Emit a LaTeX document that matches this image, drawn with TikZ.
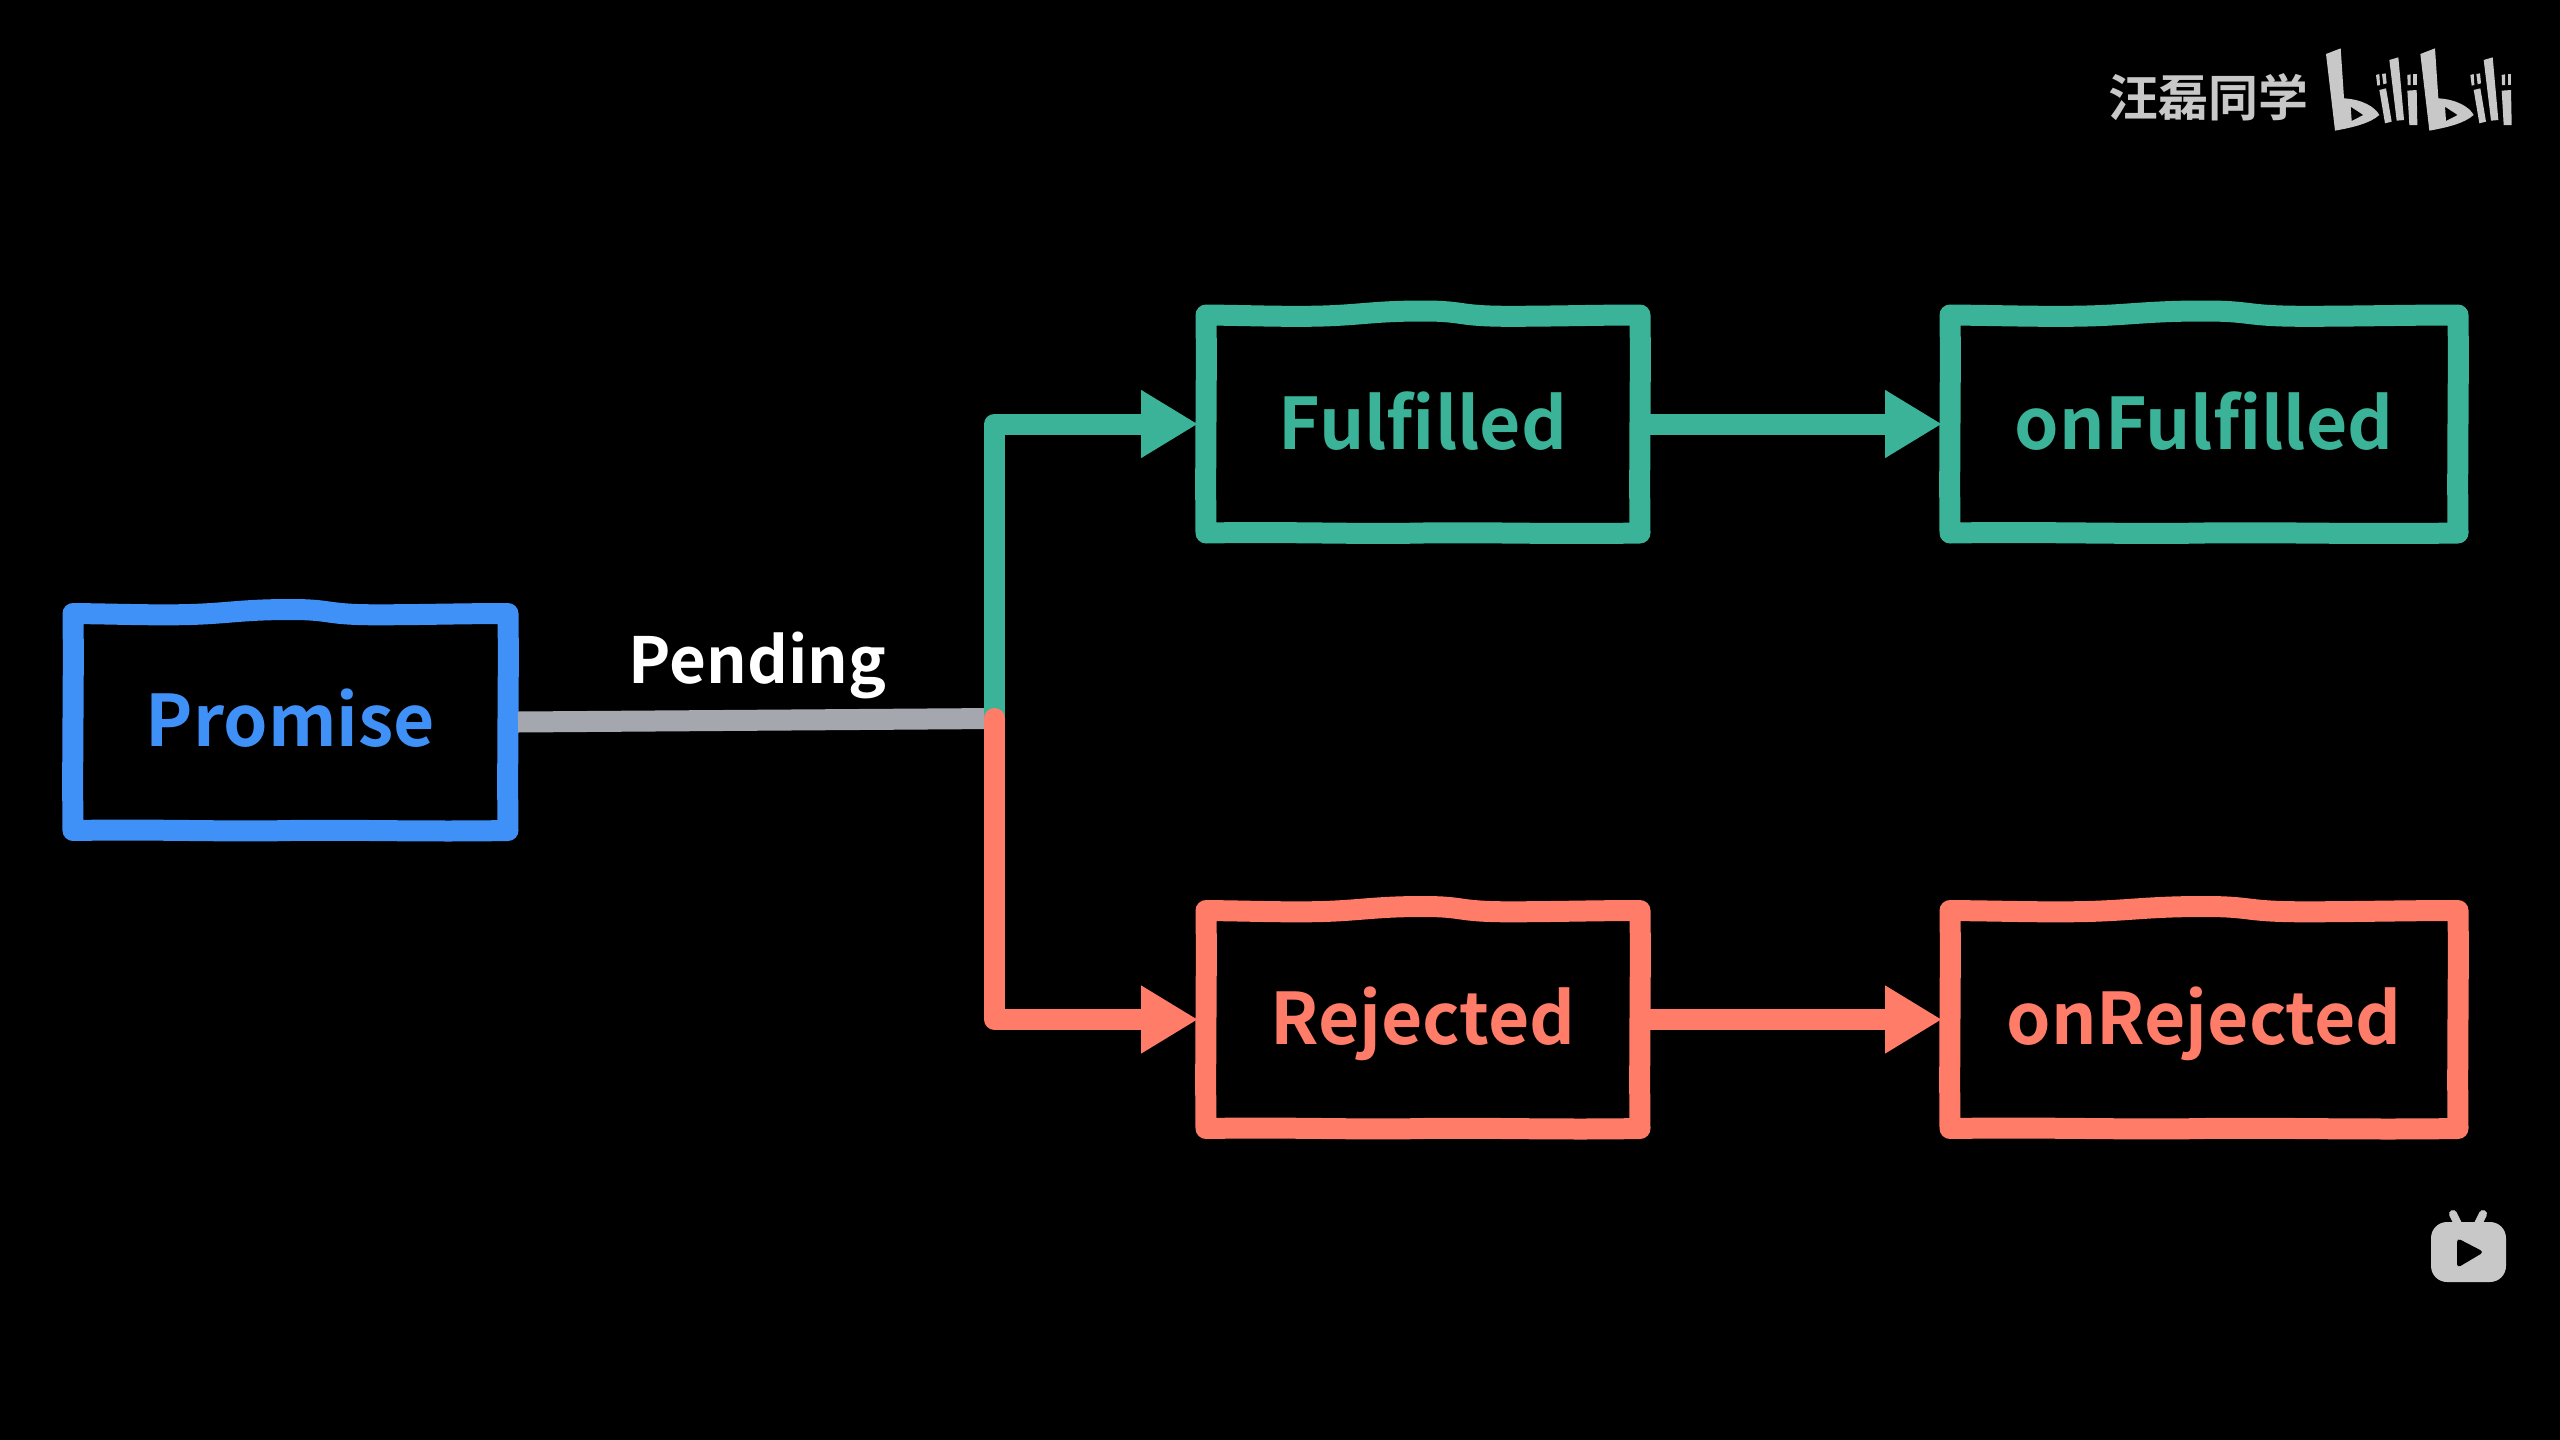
\documentclass[tikz,border=0pt]{standalone}
\usepackage{fontspec}
\setmainfont{Noto Sans CJK SC}[BoldFont={* Bold}]
\usetikzlibrary{arrows.meta}
\definecolor{cblue}{RGB}{64,145,247}
\definecolor{cgreen}{RGB}{59,179,152}
\definecolor{cred}{RGB}{255,124,104}
\definecolor{cgrey}{RGB}{164,168,174}
\definecolor{cmark}{RGB}{200,200,200}
\tikzset{
  x=0.5pt,y=-0.5pt,
  boxnode/.style={inner sep=0pt,outer sep=0pt,minimum width=#1},
  labeltext/.style={inner sep=0pt,anchor=base,font=\fontsize{35.6}{36}\selectfont\bfseries},
  conn/.style={line width=10.5pt,line join=round},
  tipped/.style={conn,-{Triangle[length=28.5pt,width=32pt]}},
}
% name, cx, cy, w, h, colour, text, baseline y
\newcommand{\handbox}[8]{%
  \node[boxnode=#4*0.5pt,minimum height=#5*0.5pt] (#1) at (#2,#3) {};
  \node[labeltext,text=#6] (#1text) at (#2,#8) {#7};
  \begin{scope}[shift={(#1.center)}]
    \pgfmathsetmacro{\a}{#4/2-10}
    \pgfmathsetmacro{\b}{#5/2-10.5}
    \draw[draw=#6,line width=10.5pt,line join=round]
      ({-\a},{-\b}) .. controls ({-.8*\a},{-\b+.5}) and ({-.7*\a},{-\b+1.5}) .. ({-.54*\a},{-\b+1.3})
      .. controls ({-.3*\a},{-\b+1}) and ({-.25*\a},{-\b-4}) .. (0,{-\b-4})
      .. controls ({.2*\a},{-\b-4}) and ({.15*\a},{-\b+1.3}) .. ({.4*\a},{-\b+1.3})
      .. controls ({.6*\a},{-\b+1.3}) and ({.8*\a},{-\b}) .. ({\a},{-\b})
      .. controls ({\a+1},{-.4*\b}) and ({\a-1},{.3*\b}) .. ({\a},{\b})
      .. controls ({.6*\a},{\b+1.5}) and ({.3*\a},{\b-1}) .. ({0},{\b})
      .. controls ({-.3*\a},{\b+1.5}) and ({-.6*\a},{\b-1.5}) .. ({-\a},{\b})
      .. controls ({-\a-1},{.3*\b}) and ({-\a+1},{-.4*\b}) .. cycle;
  \end{scope}
}
\begin{document}
\begin{tikzpicture}
\fill[black] (0,0) rectangle (2560,1440);
\useasboundingbox (0,0) rectangle (2560,1440);
\handbox{promise}{290.5}{722}{455}{238}{cblue}{Promise}{746}
\handbox{fulfilled}{1423}{424}{454}{239}{cgreen}{Fulfilled}{449}
\handbox{onfulfilled}{2204}{424}{528}{239}{cgreen}{onFulfilled}{449}
\handbox{rejected}{1423}{1019.5}{454}{239}{cred}{Rejected}{1044}
\handbox{onrejected}{2204}{1019.5}{528}{239}{cred}{onRejected}{1044}
\coordinate (junction) at (994.5,718.5);
\node[labeltext,text=white,font=\fontsize{31.8}{32}\selectfont\bfseries] (pending) at (757.5,683) {Pending};
\draw[conn,cgrey] (promise.east) -- (junction);
\draw[tipped,cgreen,line cap=round] (junction) |- ([xshift=1pt]fulfilled.west);
\draw[tipped,cred,line cap=round] (junction) |- ([xshift=1pt]rejected.west);
\draw[tipped,cgreen] (fulfilled.east) -- ([xshift=1pt]onfulfilled.west);
\draw[tipped,cred] (rejected.east) -- ([xshift=1pt]onrejected.west);
% watermark
\node[inner sep=0pt,anchor=base,text=cmark,font=\fontsize{25}{25}\selectfont\bfseries] (author) at (2208,116) {汪磊同学};
\begin{scope}[shift={(2320,40)},x=0.16667pt,y=-0.16667pt,cmark]
  \foreach \dx in {0,283}{
  \begin{scope}[shift={(\dx,0)}]
  \fill[even odd rule] (18,42) -- (62,25) -- (72,175) .. controls (125,178) and (165,200) .. (178,225) .. controls (150,250) and (100,262) .. (45,272) -- cycle
    (92,200) -- (130,225) -- (95,243) -- cycle;
  \fill (168,105) -- (178,102) -- (180,135) -- (172,137) -- cycle;
  \fill (186,102) -- (197,100) -- (200,130) -- (190,133) -- cycle;
  \fill (178,150) -- (198,145) -- (215,245) -- (195,250) -- cycle;
  \fill (208,60) -- (235,52) -- (252,240) -- (230,242) -- cycle;
  \fill (262,105) -- (272,103) -- (272,135) -- (263,135) -- cycle;
  \fill (280,103) -- (290,103) -- (290,135) -- (280,135) -- cycle;
  \fill (262,152) -- (290,150) -- (292,255) -- (268,255) -- cycle;
  \end{scope}}
\end{scope}
% tv icon
\begin{scope}[cmark]
  \draw[line width=4pt,line cap=round] (2453,1214) -- (2459,1226);
  \draw[line width=4pt,line cap=round] (2483,1214) -- (2477,1226);
  \fill[rounded corners=8pt] (2431,1222) rectangle (2506,1282);
  \fill[black,rounded corners=2pt] (2457,1238) -- (2484,1252) -- (2457,1268) -- cycle;
\end{scope}
\end{tikzpicture}
\end{document}
